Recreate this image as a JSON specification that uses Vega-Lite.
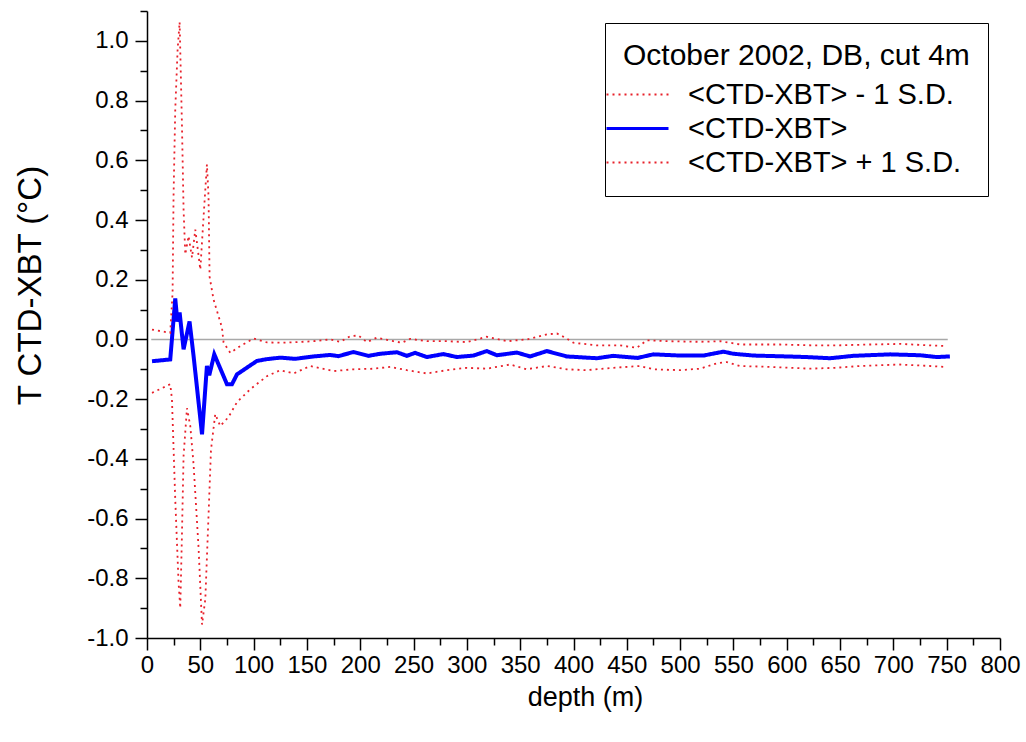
{
  "$schema": "https://vega.github.io/schema/vega-lite/v6.json",
  "width": 853,
  "height": 627,
  "autosize": "none",
  "padding": {"left": 147, "top": 11, "right": 26, "bottom": 104},
  "background": "white",
  "config": {
    "view": {"stroke": null},
    "font": "Liberation Sans",
    "axis": {
      "grid": false,
      "domainColor": "black",
      "domainWidth": 1.5,
      "tickColor": "black",
      "tickWidth": 1.5,
      "labelFont": "Liberation Sans",
      "labelFontSize": 24,
      "labelColor": "black",
      "titleFont": "Liberation Sans",
      "titleFontWeight": "normal",
      "titleColor": "black"
    },
    "legend": {
      "labelFont": "Liberation Sans",
      "titleFont": "Liberation Sans"
    }
  },
  "datasets": {
    "profiles": [
      {"depth": 4.7, "value": -0.073, "series": "<CTD-XBT>"},
      {"depth": 21.8, "value": -0.067, "series": "<CTD-XBT>"},
      {"depth": 24.9, "value": 0.067, "series": "<CTD-XBT>"},
      {"depth": 26.5, "value": 0.137, "series": "<CTD-XBT>"},
      {"depth": 28.5, "value": 0.06, "series": "<CTD-XBT>"},
      {"depth": 30.6, "value": 0.09, "series": "<CTD-XBT>"},
      {"depth": 34.3, "value": -0.033, "series": "<CTD-XBT>"},
      {"depth": 39.9, "value": 0.06, "series": "<CTD-XBT>"},
      {"depth": 43.7, "value": -0.056, "series": "<CTD-XBT>"},
      {"depth": 51.6, "value": -0.318, "series": "<CTD-XBT>"},
      {"depth": 56.2, "value": -0.089, "series": "<CTD-XBT>"},
      {"depth": 58.4, "value": -0.12, "series": "<CTD-XBT>"},
      {"depth": 63.1, "value": -0.05, "series": "<CTD-XBT>"},
      {"depth": 75.0, "value": -0.15, "series": "<CTD-XBT>"},
      {"depth": 79.7, "value": -0.15, "series": "<CTD-XBT>"},
      {"depth": 84.4, "value": -0.117, "series": "<CTD-XBT>"},
      {"depth": 103.1, "value": -0.072, "series": "<CTD-XBT>"},
      {"depth": 112.5, "value": -0.066, "series": "<CTD-XBT>"},
      {"depth": 125.0, "value": -0.061, "series": "<CTD-XBT>"},
      {"depth": 139.0, "value": -0.065, "series": "<CTD-XBT>"},
      {"depth": 156.2, "value": -0.057, "series": "<CTD-XBT>"},
      {"depth": 171.8, "value": -0.052, "series": "<CTD-XBT>"},
      {"depth": 179.6, "value": -0.056, "series": "<CTD-XBT>"},
      {"depth": 193.7, "value": -0.042, "series": "<CTD-XBT>"},
      {"depth": 207.7, "value": -0.055, "series": "<CTD-XBT>"},
      {"depth": 218.7, "value": -0.048, "series": "<CTD-XBT>"},
      {"depth": 234.4, "value": -0.043, "series": "<CTD-XBT>"},
      {"depth": 243.7, "value": -0.055, "series": "<CTD-XBT>"},
      {"depth": 251.5, "value": -0.045, "series": "<CTD-XBT>"},
      {"depth": 262.5, "value": -0.059, "series": "<CTD-XBT>"},
      {"depth": 278.0, "value": -0.049, "series": "<CTD-XBT>"},
      {"depth": 290.6, "value": -0.059, "series": "<CTD-XBT>"},
      {"depth": 306.2, "value": -0.054, "series": "<CTD-XBT>"},
      {"depth": 318.7, "value": -0.039, "series": "<CTD-XBT>"},
      {"depth": 328.1, "value": -0.053, "series": "<CTD-XBT>"},
      {"depth": 346.9, "value": -0.044, "series": "<CTD-XBT>"},
      {"depth": 359.3, "value": -0.057, "series": "<CTD-XBT>"},
      {"depth": 375.0, "value": -0.039, "series": "<CTD-XBT>"},
      {"depth": 393.7, "value": -0.057, "series": "<CTD-XBT>"},
      {"depth": 421.9, "value": -0.063, "series": "<CTD-XBT>"},
      {"depth": 437.4, "value": -0.055, "series": "<CTD-XBT>"},
      {"depth": 460.0, "value": -0.062, "series": "<CTD-XBT>"},
      {"depth": 474.9, "value": -0.05, "series": "<CTD-XBT>"},
      {"depth": 499.9, "value": -0.054, "series": "<CTD-XBT>"},
      {"depth": 521.8, "value": -0.054, "series": "<CTD-XBT>"},
      {"depth": 540.6, "value": -0.041, "series": "<CTD-XBT>"},
      {"depth": 549.9, "value": -0.048, "series": "<CTD-XBT>"},
      {"depth": 568.7, "value": -0.054, "series": "<CTD-XBT>"},
      {"depth": 600.0, "value": -0.057, "series": "<CTD-XBT>"},
      {"depth": 618.7, "value": -0.059, "series": "<CTD-XBT>"},
      {"depth": 640.6, "value": -0.063, "series": "<CTD-XBT>"},
      {"depth": 662.4, "value": -0.055, "series": "<CTD-XBT>"},
      {"depth": 696.8, "value": -0.05, "series": "<CTD-XBT>"},
      {"depth": 725.0, "value": -0.053, "series": "<CTD-XBT>"},
      {"depth": 740.6, "value": -0.059, "series": "<CTD-XBT>"},
      {"depth": 753.0, "value": -0.057, "series": "<CTD-XBT>"},

      {"depth": 4.7, "value": 0.033, "series": "<CTD-XBT> + 1 S.D."},
      {"depth": 21.8, "value": 0.022, "series": "<CTD-XBT> + 1 S.D."},
      {"depth": 24.0, "value": 0.157, "series": "<CTD-XBT> + 1 S.D."},
      {"depth": 24.9, "value": 0.48, "series": "<CTD-XBT> + 1 S.D."},
      {"depth": 26.5, "value": 0.77, "series": "<CTD-XBT> + 1 S.D."},
      {"depth": 28.7, "value": 0.97, "series": "<CTD-XBT> + 1 S.D."},
      {"depth": 30.6, "value": 1.063, "series": "<CTD-XBT> + 1 S.D."},
      {"depth": 32.8, "value": 0.715, "series": "<CTD-XBT> + 1 S.D."},
      {"depth": 34.3, "value": 0.435, "series": "<CTD-XBT> + 1 S.D."},
      {"depth": 35.9, "value": 0.285, "series": "<CTD-XBT> + 1 S.D."},
      {"depth": 39.0, "value": 0.346, "series": "<CTD-XBT> + 1 S.D."},
      {"depth": 42.2, "value": 0.274, "series": "<CTD-XBT> + 1 S.D."},
      {"depth": 45.3, "value": 0.368, "series": "<CTD-XBT> + 1 S.D."},
      {"depth": 50.0, "value": 0.234, "series": "<CTD-XBT> + 1 S.D."},
      {"depth": 53.1, "value": 0.413, "series": "<CTD-XBT> + 1 S.D."},
      {"depth": 56.2, "value": 0.586, "series": "<CTD-XBT> + 1 S.D."},
      {"depth": 57.7, "value": 0.48, "series": "<CTD-XBT> + 1 S.D."},
      {"depth": 58.7, "value": 0.21, "series": "<CTD-XBT> + 1 S.D."},
      {"depth": 62.4, "value": 0.134, "series": "<CTD-XBT> + 1 S.D."},
      {"depth": 70.3, "value": 0.04, "series": "<CTD-XBT> + 1 S.D."},
      {"depth": 71.8, "value": -0.01, "series": "<CTD-XBT> + 1 S.D."},
      {"depth": 78.1, "value": -0.045, "series": "<CTD-XBT> + 1 S.D."},
      {"depth": 87.5, "value": -0.022, "series": "<CTD-XBT> + 1 S.D."},
      {"depth": 99.9, "value": 0.003, "series": "<CTD-XBT> + 1 S.D."},
      {"depth": 112.5, "value": -0.01, "series": "<CTD-XBT> + 1 S.D."},
      {"depth": 125.0, "value": -0.011, "series": "<CTD-XBT> + 1 S.D."},
      {"depth": 140.6, "value": -0.009, "series": "<CTD-XBT> + 1 S.D."},
      {"depth": 156.2, "value": -0.006, "series": "<CTD-XBT> + 1 S.D."},
      {"depth": 171.8, "value": 0.0, "series": "<CTD-XBT> + 1 S.D."},
      {"depth": 181.2, "value": -0.008, "series": "<CTD-XBT> + 1 S.D."},
      {"depth": 190.6, "value": 0.011, "series": "<CTD-XBT> + 1 S.D."},
      {"depth": 198.4, "value": 0.013, "series": "<CTD-XBT> + 1 S.D."},
      {"depth": 206.2, "value": -0.009, "series": "<CTD-XBT> + 1 S.D."},
      {"depth": 215.6, "value": 0.006, "series": "<CTD-XBT> + 1 S.D."},
      {"depth": 231.2, "value": -0.006, "series": "<CTD-XBT> + 1 S.D."},
      {"depth": 239.1, "value": -0.011, "series": "<CTD-XBT> + 1 S.D."},
      {"depth": 246.8, "value": 0.002, "series": "<CTD-XBT> + 1 S.D."},
      {"depth": 262.5, "value": -0.006, "series": "<CTD-XBT> + 1 S.D."},
      {"depth": 281.2, "value": -0.006, "series": "<CTD-XBT> + 1 S.D."},
      {"depth": 300.0, "value": -0.009, "series": "<CTD-XBT> + 1 S.D."},
      {"depth": 318.7, "value": 0.009, "series": "<CTD-XBT> + 1 S.D."},
      {"depth": 337.5, "value": -0.006, "series": "<CTD-XBT> + 1 S.D."},
      {"depth": 356.2, "value": 0.0, "series": "<CTD-XBT> + 1 S.D."},
      {"depth": 375.0, "value": 0.017, "series": "<CTD-XBT> + 1 S.D."},
      {"depth": 384.4, "value": 0.02, "series": "<CTD-XBT> + 1 S.D."},
      {"depth": 392.1, "value": 0.006, "series": "<CTD-XBT> + 1 S.D."},
      {"depth": 399.9, "value": -0.011, "series": "<CTD-XBT> + 1 S.D."},
      {"depth": 421.9, "value": -0.02, "series": "<CTD-XBT> + 1 S.D."},
      {"depth": 443.7, "value": -0.02, "series": "<CTD-XBT> + 1 S.D."},
      {"depth": 459.4, "value": -0.028, "series": "<CTD-XBT> + 1 S.D."},
      {"depth": 468.7, "value": -0.003, "series": "<CTD-XBT> + 1 S.D."},
      {"depth": 490.6, "value": -0.006, "series": "<CTD-XBT> + 1 S.D."},
      {"depth": 518.7, "value": -0.008, "series": "<CTD-XBT> + 1 S.D."},
      {"depth": 537.5, "value": -0.006, "series": "<CTD-XBT> + 1 S.D."},
      {"depth": 546.8, "value": -0.011, "series": "<CTD-XBT> + 1 S.D."},
      {"depth": 556.2, "value": -0.017, "series": "<CTD-XBT> + 1 S.D."},
      {"depth": 593.7, "value": -0.017, "series": "<CTD-XBT> + 1 S.D."},
      {"depth": 626.5, "value": -0.02, "series": "<CTD-XBT> + 1 S.D."},
      {"depth": 645.3, "value": -0.02, "series": "<CTD-XBT> + 1 S.D."},
      {"depth": 677.9, "value": -0.017, "series": "<CTD-XBT> + 1 S.D."},
      {"depth": 706.1, "value": -0.015, "series": "<CTD-XBT> + 1 S.D."},
      {"depth": 734.3, "value": -0.02, "series": "<CTD-XBT> + 1 S.D."},
      {"depth": 748.4, "value": -0.022, "series": "<CTD-XBT> + 1 S.D."},

      {"depth": 4.7, "value": -0.179, "series": "<CTD-XBT> - 1 S.D."},
      {"depth": 21.8, "value": -0.15, "series": "<CTD-XBT> - 1 S.D."},
      {"depth": 23.4, "value": -0.2, "series": "<CTD-XBT> - 1 S.D."},
      {"depth": 26.5, "value": -0.536, "series": "<CTD-XBT> - 1 S.D."},
      {"depth": 29.6, "value": -0.815, "series": "<CTD-XBT> - 1 S.D."},
      {"depth": 31.2, "value": -0.9, "series": "<CTD-XBT> - 1 S.D."},
      {"depth": 32.8, "value": -0.65, "series": "<CTD-XBT> - 1 S.D."},
      {"depth": 34.3, "value": -0.39, "series": "<CTD-XBT> - 1 S.D."},
      {"depth": 37.5, "value": -0.23, "series": "<CTD-XBT> - 1 S.D."},
      {"depth": 40.6, "value": -0.29, "series": "<CTD-XBT> - 1 S.D."},
      {"depth": 43.7, "value": -0.42, "series": "<CTD-XBT> - 1 S.D."},
      {"depth": 48.4, "value": -0.7, "series": "<CTD-XBT> - 1 S.D."},
      {"depth": 51.6, "value": -0.955, "series": "<CTD-XBT> - 1 S.D."},
      {"depth": 54.7, "value": -0.87, "series": "<CTD-XBT> - 1 S.D."},
      {"depth": 57.7, "value": -0.59, "series": "<CTD-XBT> - 1 S.D."},
      {"depth": 60.0, "value": -0.37, "series": "<CTD-XBT> - 1 S.D."},
      {"depth": 64.0, "value": -0.25, "series": "<CTD-XBT> - 1 S.D."},
      {"depth": 68.7, "value": -0.29, "series": "<CTD-XBT> - 1 S.D."},
      {"depth": 76.5, "value": -0.26, "series": "<CTD-XBT> - 1 S.D."},
      {"depth": 84.4, "value": -0.21, "series": "<CTD-XBT> - 1 S.D."},
      {"depth": 96.8, "value": -0.167, "series": "<CTD-XBT> - 1 S.D."},
      {"depth": 112.5, "value": -0.123, "series": "<CTD-XBT> - 1 S.D."},
      {"depth": 125.0, "value": -0.103, "series": "<CTD-XBT> - 1 S.D."},
      {"depth": 137.5, "value": -0.114, "series": "<CTD-XBT> - 1 S.D."},
      {"depth": 153.1, "value": -0.089, "series": "<CTD-XBT> - 1 S.D."},
      {"depth": 175.0, "value": -0.106, "series": "<CTD-XBT> - 1 S.D."},
      {"depth": 193.7, "value": -0.1, "series": "<CTD-XBT> - 1 S.D."},
      {"depth": 212.4, "value": -0.098, "series": "<CTD-XBT> - 1 S.D."},
      {"depth": 228.1, "value": -0.092, "series": "<CTD-XBT> - 1 S.D."},
      {"depth": 243.7, "value": -0.103, "series": "<CTD-XBT> - 1 S.D."},
      {"depth": 262.5, "value": -0.114, "series": "<CTD-XBT> - 1 S.D."},
      {"depth": 281.2, "value": -0.103, "series": "<CTD-XBT> - 1 S.D."},
      {"depth": 300.0, "value": -0.095, "series": "<CTD-XBT> - 1 S.D."},
      {"depth": 318.7, "value": -0.098, "series": "<CTD-XBT> - 1 S.D."},
      {"depth": 340.6, "value": -0.084, "series": "<CTD-XBT> - 1 S.D."},
      {"depth": 356.2, "value": -0.1, "series": "<CTD-XBT> - 1 S.D."},
      {"depth": 375.0, "value": -0.089, "series": "<CTD-XBT> - 1 S.D."},
      {"depth": 393.7, "value": -0.1, "series": "<CTD-XBT> - 1 S.D."},
      {"depth": 412.5, "value": -0.103, "series": "<CTD-XBT> - 1 S.D."},
      {"depth": 437.4, "value": -0.095, "series": "<CTD-XBT> - 1 S.D."},
      {"depth": 462.5, "value": -0.089, "series": "<CTD-XBT> - 1 S.D."},
      {"depth": 474.9, "value": -0.1, "series": "<CTD-XBT> - 1 S.D."},
      {"depth": 499.9, "value": -0.103, "series": "<CTD-XBT> - 1 S.D."},
      {"depth": 518.7, "value": -0.098, "series": "<CTD-XBT> - 1 S.D."},
      {"depth": 534.4, "value": -0.08, "series": "<CTD-XBT> - 1 S.D."},
      {"depth": 543.7, "value": -0.076, "series": "<CTD-XBT> - 1 S.D."},
      {"depth": 556.2, "value": -0.089, "series": "<CTD-XBT> - 1 S.D."},
      {"depth": 584.3, "value": -0.092, "series": "<CTD-XBT> - 1 S.D."},
      {"depth": 621.8, "value": -0.098, "series": "<CTD-XBT> - 1 S.D."},
      {"depth": 645.3, "value": -0.095, "series": "<CTD-XBT> - 1 S.D."},
      {"depth": 668.7, "value": -0.089, "series": "<CTD-XBT> - 1 S.D."},
      {"depth": 706.1, "value": -0.084, "series": "<CTD-XBT> - 1 S.D."},
      {"depth": 734.3, "value": -0.089, "series": "<CTD-XBT> - 1 S.D."},
      {"depth": 748.4, "value": -0.092, "series": "<CTD-XBT> - 1 S.D."}
    ],
    "zeroline": [
      {"start": 4, "end": 751, "level": 0}
    ]
  },
  "layer": [
    {
      "data": {"name": "zeroline"},
      "mark": {"type": "rule", "color": "#a8a8a8", "strokeWidth": 1.5},
      "encoding": {
        "x": {
          "field": "start", "type": "quantitative",
          "scale": {"domain": [0, 800], "nice": false, "zero": false},
          "axis": {
            "orient": "bottom",
            "values": [25, 75, 125, 175, 225, 275, 325, 375, 425, 475, 525, 575, 625, 675, 725, 775],
            "labels": false, "domain": false, "tickSize": 7, "title": null
          }
        },
        "x2": {"field": "end"},
        "y": {
          "field": "level", "type": "quantitative",
          "scale": {"domain": [-1.0, 1.1], "nice": false, "zero": false},
          "axis": {
            "orient": "left",
            "values": [-0.9, -0.7, -0.5, -0.3, -0.1, 0.1, 0.3, 0.5, 0.7, 0.9, 1.1],
            "labels": false, "domain": false, "tickSize": 7, "title": null
          }
        }
      }
    },
    {
      "data": {"name": "profiles"},
      "mark": {"type": "line", "interpolate": "linear"},
      "encoding": {
        "x": {
          "field": "depth", "type": "quantitative",
          "scale": {"domain": [0, 800], "nice": false, "zero": false},
          "axis": {
            "orient": "bottom",
            "values": [0, 50, 100, 150, 200, 250, 300, 350, 400, 450, 500, 550, 600, 650, 700, 750, 800],
            "format": "d",
            "tickSize": 12,
            "labelPadding": 3,
            "title": "depth (m)",
            "titleFontSize": 27,
            "titleX": 438,
            "titleY": 59,
            "titleBaseline": "middle",
            "labelFlush": false
          }
        },
        "y": {
          "field": "value", "type": "quantitative",
          "scale": {"domain": [-1.0, 1.1], "nice": false, "zero": false},
          "axis": {
            "orient": "left",
            "values": [-1.0, -0.8, -0.6, -0.4, -0.2, 0.0, 0.2, 0.4, 0.6, 0.8, 1.0],
            "labelExpr": "replace(format(datum.value, '.1f'), '\u2212', '-')",
            "tickSize": 12,
            "labelPadding": 7,
            "title": "T CTD-XBT (°C)",
            "titleFontSize": 33,
            "titleX": -117,
            "titleY": 274,
            "titleAngle": -90,
            "titleBaseline": "middle",
            "titleAlign": "center",
            "labelFlush": false
          }
        },
        "color": {
          "field": "series", "type": "nominal",
          "scale": {
            "domain": ["<CTD-XBT> - 1 S.D.", "<CTD-XBT>", "<CTD-XBT> + 1 S.D."],
            "range": ["#e8202a", "#0000ff", "#e8202a"]
          },
          "legend": {
            "title": "October 2002, DB, cut 4m",
            "orient": "top-right",
            "offset": 12,
            "padding": 18,
            "strokeColor": "black",
            "fillColor": "white",
            "titleFontSize": 30,
            "titleFontWeight": "normal",
            "titleColor": "black",
            "titlePadding": 9,
            "titleLimit": 600,
            "labelFontSize": 29,
            "labelColor": "black",
            "labelOffset": 36,
            "labelLimit": 500,
            "symbolType": "stroke",
            "symbolSize": 3844,
            "rowPadding": 4,
            "encode": {
              "symbols": {
                "update": {
                  "strokeWidth": {"signal": "datum.value === '<CTD-XBT>' ? 3 : 1.8"}
                }
              }
            }
          }
        },
        "strokeDash": {
          "field": "series", "type": "nominal",
          "scale": {
            "domain": ["<CTD-XBT> - 1 S.D.", "<CTD-XBT>", "<CTD-XBT> + 1 S.D."],
            "range": [[2, 4], [1, 0], [2, 4]]
          }
        },
        "strokeWidth": {
          "condition": {"test": "datum.series === '<CTD-XBT>'", "value": 4},
          "value": 1.8
        }
      }
    }
  ],
  "resolve": {"axis": {"x": "independent", "y": "independent"}}
}
